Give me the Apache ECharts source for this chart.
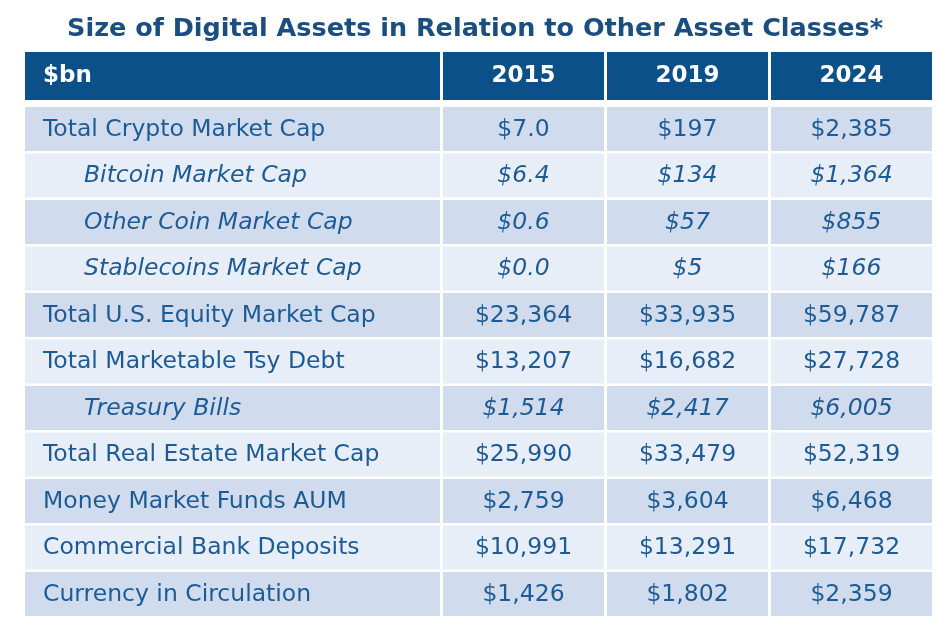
<!DOCTYPE html>
<html>
<head>
<meta charset="utf-8">
<script src="https://cdn.jsdelivr.net/npm/echarts@6/dist/echarts.min.js"></script>
<style>html,body{margin:0;padding:0;background:#fff}#c{width:940px;height:632px}</style>
</head>
<body>
<div id="c"></div>
<script>
// ---- data ----
const title = 'Size of Digital Assets in Relation to Other Asset Classes*';
const unitLabel = '$bn';
const years = ['2015', '2019', '2024'];
const categories = [
  'Total Crypto Market Cap',
  'Bitcoin Market Cap',
  'Other Coin Market Cap',
  'Stablecoins Market Cap',
  'Total U.S. Equity Market Cap',
  'Total Marketable Tsy Debt',
  'Treasury Bills',
  'Total Real Estate Market Cap',
  'Money Market Funds AUM',
  'Commercial Bank Deposits',
  'Currency in Circulation'
];
const v2015 = [7.0, 6.4, 0.6, 0.0, 23364, 13207, 1514, 25990, 2759, 10991, 1426];
const v2019 = [197, 134, 57, 5, 33935, 16682, 2417, 33479, 3604, 13291, 1802];
const v2024 = [2385, 1364, 855, 166, 59787, 27728, 6005, 52319, 6468, 17732, 2359];
const subItems = ['Bitcoin Market Cap', 'Other Coin Market Cap', 'Stablecoins Market Cap', 'Treasury Bills'];

// ---- build ----
const values = [v2015, v2019, v2024];
const rowsAxis = ['header'].concat(categories);
const FONT = '"DejaVu Sans", Verdana, sans-serif';
const HEADER_BG = '#0c5089';
const DARK_ROW = '#d0dcee';
const LIGHT_ROW = '#e8eef8';
const TEXT = '#1d5b95';
const BODY_SIZE = 23.5;
const HEAD_SIZE = 23;

function fmt(v, col) {
  if (years[col] === '2015' && v < 10) return '$' + v.toFixed(1);
  return '$' + Math.round(v).toLocaleString('en-US');
}

function cellRect(api, xIdx, yIdx) {
  const c = api.coord([xIdx, yIdx]);
  const s = api.size([1, 1]);
  let x = c[0] - s[0] / 2 + 1.5, w = s[0] - 3;
  let y, h;
  if (yIdx === 0) { y = c[1] - s[1] / 2 - 7.5; h = 48; }
  else { y = c[1] - s[1] / 2 + 1; h = s[1] - 2.5; }
  return { x, y, w, h };
}

function renderLabel(params, api) {
  const yIdx = api.value(1);
  const r = cellRect(api, 0, yIdx);
  const isHeader = yIdx === 0;
  const name = isHeader ? unitLabel : categories[yIdx - 1];
  const sub = subItems.indexOf(name) >= 0;
  const bg = isHeader ? HEADER_BG : (yIdx % 2 === 1 ? DARK_ROW : LIGHT_ROW);
  return {
    type: 'group',
    children: [
      { type: 'rect', shape: { x: r.x, y: r.y, width: r.w, height: r.h }, style: { fill: bg } },
      { type: 'text', style: {
          x: r.x + (sub ? 59 : 18), y: r.y + r.h / 2 + 0.5, text: name,
          fill: isHeader ? '#ffffff' : TEXT,
          fontSize: isHeader ? HEAD_SIZE : BODY_SIZE, fontFamily: FONT,
          fontWeight: isHeader ? 'bold' : 'normal',
          fontStyle: sub ? 'italic' : 'normal',
          align: 'left', verticalAlign: 'middle',
          textAlign: 'left', textVerticalAlign: 'middle'
      } }
    ]
  };
}

function renderValue(params, api) {
  const xIdx = api.value(0);
  const yIdx = api.value(1);
  const r = cellRect(api, xIdx, yIdx);
  const isHeader = yIdx === 0;
  const name = isHeader ? '' : categories[yIdx - 1];
  const sub = subItems.indexOf(name) >= 0;
  const bg = isHeader ? HEADER_BG : (yIdx % 2 === 1 ? DARK_ROW : LIGHT_ROW);
  const txt = isHeader ? years[xIdx] : fmt(values[xIdx][yIdx - 1], xIdx);
  return {
    type: 'group',
    children: [
      { type: 'rect', shape: { x: r.x, y: r.y, width: r.w, height: r.h }, style: { fill: bg } },
      { type: 'text', style: {
          x: r.x + r.w / 2, y: r.y + r.h / 2 + 0.5, text: txt,
          fill: isHeader ? '#ffffff' : TEXT,
          fontSize: isHeader ? HEAD_SIZE : BODY_SIZE, fontFamily: FONT,
          fontWeight: isHeader ? 'bold' : 'normal',
          fontStyle: sub ? 'italic' : 'normal',
          align: 'center', verticalAlign: 'middle',
          textAlign: 'center', textVerticalAlign: 'middle'
      } }
    ]
  };
}

const labelData = rowsAxis.map((_, i) => [0, i]);
const valueData = [];
rowsAxis.forEach((_, i) => years.forEach((_, j) => valueData.push([j, i])));

const hidden = { show: false };
const chart = echarts.init(document.getElementById('c'), null, { renderer: 'canvas' });
chart.setOption({
  animation: false,
  backgroundColor: '#ffffff',
  title: {
    text: title, left: 475, top: 16, textAlign: 'center', padding: 0,
    textStyle: { fontFamily: FONT, fontWeight: 'bold', fontSize: 25.5, color: '#1a4e80' }
  },
  grid: [
    { left: 23.5, top: 59.5, width: 418, height: 558 },
    { left: 441.5, top: 59.5, width: 492, height: 558 }
  ],
  xAxis: [
    { type: 'category', gridIndex: 0, data: [unitLabel], axisLine: hidden, axisTick: hidden, axisLabel: hidden, splitLine: hidden },
    { type: 'category', gridIndex: 1, data: years, axisLine: hidden, axisTick: hidden, axisLabel: hidden, splitLine: hidden }
  ],
  yAxis: [
    { type: 'category', gridIndex: 0, inverse: true, data: rowsAxis, axisLine: hidden, axisTick: hidden, axisLabel: hidden, splitLine: hidden },
    { type: 'category', gridIndex: 1, inverse: true, data: rowsAxis, axisLine: hidden, axisTick: hidden, axisLabel: hidden, splitLine: hidden }
  ],
  series: [
    { type: 'custom', xAxisIndex: 0, yAxisIndex: 0, data: labelData, renderItem: renderLabel, silent: true },
    { type: 'custom', xAxisIndex: 1, yAxisIndex: 1, data: valueData, renderItem: renderValue, silent: true }
  ]
});
</script>
</body>
</html>
